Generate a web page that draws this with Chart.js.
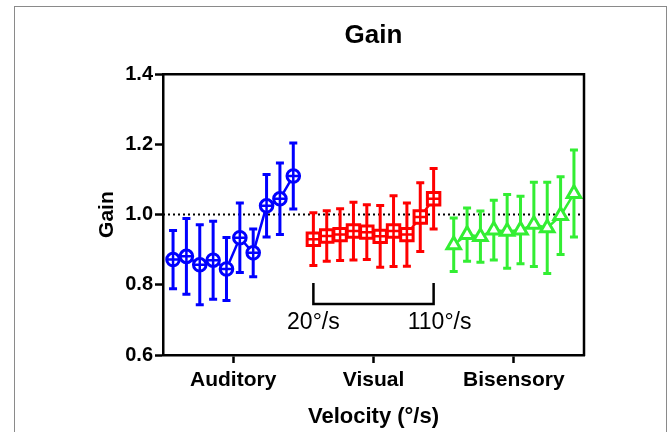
<!DOCTYPE html>
<html>
<head>
<meta charset="utf-8">
<script src="https://cdn.jsdelivr.net/npm/chart.js@4"></script>
<style>
  html, body { margin: 0; padding: 0; background: #fff; }
  canvas { display: block; }
</style>
</head>
<body>
<canvas id="gain" width="670" height="432"></canvas>
<script>
// Gain per velocity (20..110 °/s) for each modality, mean and error

const categories = ['Auditory', 'Visual', 'Bisensory'];
const velocities = [20, 30, 40, 50, 60, 70, 80, 90, 100, 110];
const yTicks     = [0.6, 0.8, 1.0, 1.2, 1.4];

const auditoryGain = [0.872, 0.881, 0.857, 0.870, 0.845, 0.934, 0.891, 1.025, 1.045, 1.110];
const auditoryErr  = [0.083, 0.108, 0.114, 0.111, 0.090, 0.099, 0.068, 0.089, 0.102, 0.094];

const visualGain   = [0.930, 0.939, 0.943, 0.953, 0.950, 0.938, 0.953, 0.943, 0.993, 1.045];
const visualErr    = [0.075, 0.072, 0.074, 0.082, 0.078, 0.088, 0.101, 0.090, 0.098, 0.086];

const bisensoryGain = [0.914, 0.943, 0.937, 0.956, 0.952, 0.956, 0.972, 0.962, 0.997, 1.060];
const bisensoryErr  = [0.076, 0.076, 0.073, 0.085, 0.105, 0.096, 0.120, 0.130, 0.111, 0.124];

const FONT = '"Liberation Sans", Arial, Helvetica, sans-serif';
const VEL_STEP = 0.0952;   // x units per 10 °/s inside a group

const groups = [
  { gain: auditoryGain,  err: auditoryErr,  color: '#0000ff', style: 'circle',   radius: 6.3, cross: 6.3 },
  { gain: visualGain,    err: visualErr,    color: '#ff0000', style: 'rect',     radius: 8.8, cross: 6.2 },
  { gain: bisensoryGain, err: bisensoryErr, color: '#33ee33', style: 'triangle', radius: 7.8, cross: 0 },
];

function xFor(gi, v) {
  return gi + 0.5 + (v - 65) / 10 * VEL_STEP;
}

const datasets = [];
groups.forEach((g, gi) => {
  const pts = g.gain.map((m, i) => ({ x: xFor(gi, velocities[i]), y: m }));
  datasets.push({
    label: categories[gi],
    data: pts,
    showLine: true,
    borderColor: g.color,
    borderWidth: 2.5,
    pointStyle: g.style,
    pointRadius: g.radius,
    pointBackgroundColor: '#fff',
    pointBorderColor: g.color,
    pointBorderWidth: 3,
    order: 1,
  });
  if (g.cross) {
    datasets.push({
      label: categories[gi] + ' +',
      data: pts,
      showLine: false,
      pointStyle: 'cross',
      pointRadius: g.cross,
      pointBorderColor: g.color,
      pointBorderWidth: 2.5,
      order: 0,
    });
  }
});

const framePlugin = {
  id: 'frame',
  beforeDraw(chart) {
    const ctx = chart.ctx;
    ctx.save();
    ctx.strokeStyle = '#8a8a8a';
    ctx.lineWidth = 1;
    ctx.strokeRect(14.5, 6.5, 652, 440);
    ctx.restore();
  },
};

const errorBarPlugin = {
  id: 'errorBars',
  beforeDatasetsDraw(chart) {
    const { ctx, chartArea: a, scales: { x, y } } = chart;
    ctx.save();
    // dotted reference at gain = 1
    const y1 = y.getPixelForValue(1);
    ctx.strokeStyle = '#000';
    ctx.lineWidth = 2;
    ctx.setLineDash([2, 3]);
    ctx.beginPath();
    ctx.moveTo(a.left, y1);
    ctx.lineTo(a.right, y1);
    ctx.stroke();
    ctx.setLineDash([]);

    groups.forEach((g, gi) => {
      ctx.strokeStyle = g.color;
      ctx.lineWidth = 3;
      g.gain.forEach((m, i) => {
        const px  = x.getPixelForValue(xFor(gi, velocities[i]));
        const top = y.getPixelForValue(m + g.err[i]);
        const bot = y.getPixelForValue(m - g.err[i]);
        ctx.beginPath();
        ctx.moveTo(px, top); ctx.lineTo(px, bot);
        ctx.moveTo(px - 4, top); ctx.lineTo(px + 4, top);
        ctx.moveTo(px - 4, bot); ctx.lineTo(px + 4, bot);
        ctx.stroke();
      });
    });
    ctx.restore();
  },
};

const boxPlugin = {
  id: 'box',
  afterDraw(chart) {
    const { ctx, chartArea: a, scales: { x, y } } = chart;
    ctx.save();
    ctx.strokeStyle = '#000';
    ctx.lineWidth = 2.5;
    ctx.beginPath();
    ctx.moveTo(a.left - 1, a.top);
    ctx.lineTo(a.right, a.top);
    ctx.lineTo(a.right, a.bottom + 1);
    ctx.stroke();

    // velocity range bracket under the visual group
    const xa = x.getPixelForValue(xFor(1, velocities[0]));
    const xb = x.getPixelForValue(xFor(1, velocities[velocities.length - 1]));
    const yb = y.getPixelForValue(0.745);
    const yt = y.getPixelForValue(0.805);
    ctx.beginPath();
    ctx.moveTo(xa, yt); ctx.lineTo(xa, yb); ctx.lineTo(xb, yb); ctx.lineTo(xb, yt);
    ctx.stroke();

    ctx.fillStyle = '#000';
    ctx.font = '23px ' + FONT;
    ctx.textAlign = 'center';
    ctx.textBaseline = 'middle';
    const yl = y.getPixelForValue(0.692);
    ctx.fillText(velocities[0] + '°/s', xa, yl);
    ctx.fillText(velocities[velocities.length - 1] + '°/s', xb + 6, yl);
    ctx.restore();
  },
};

new Chart(document.getElementById('gain'), {
  type: 'scatter',
  data: { datasets },
  plugins: [framePlugin, errorBarPlugin, boxPlugin],
  options: {
    responsive: false,
    animation: false,
    layout: { padding: { left: 80, right: 86, top: 0, bottom: 0 } },
    plugins: {
      legend: { display: false },
      tooltip: { enabled: false },
      title: {
        display: true,
        text: 'Gain',
        fullSize: false,
        color: '#000',
        font: { family: FONT, size: 26, weight: 'bold' },
        padding: { top: 20, bottom: 23 },
      },
    },
    scales: {
      x: {
        type: 'linear',
        min: 0,
        max: 3,
        afterBuildTicks: s => { s.ticks = categories.map((c, i) => ({ value: i + 0.5 })); },
        afterFit: s => { s.height = 77; },
        grid: { drawOnChartArea: false, tickLength: 8, tickWidth: 2.5, tickColor: '#000' },
        border: { color: '#000', width: 2.5 },
        ticks: {
          callback: (v, i) => categories[i],
          color: '#000',
          font: { family: FONT, size: 21, weight: 'bold' },
          padding: 5,
          maxRotation: 0,
          autoSkip: false,
        },
        title: {
          display: true,
          text: 'Velocity (°/s)',
          color: '#000',
          font: { family: FONT, size: 22, weight: 'bold' },
          padding: { top: 0, bottom: 2 },
        },
      },
      y: {
        min: 0.6,
        max: 1.4,
        afterBuildTicks: s => { s.ticks = yTicks.map(v => ({ value: v })); },
        afterFit: s => { s.width = 83; },
        grid: { drawOnChartArea: false, tickLength: 8, tickWidth: 2.5, tickColor: '#000' },
        border: { color: '#000', width: 2.5 },
        ticks: {
          callback: v => v.toFixed(1),
          color: '#000',
          font: { family: FONT, size: 20, weight: 'bold' },
          padding: 2,
        },
        title: {
          display: true,
          text: 'Gain',
          color: '#000',
          font: { family: FONT, size: 21, weight: 'bold' },
          padding: { top: 15, bottom: 0 },
        },
      },
    },
  },
});
</script>
</body>
</html>
